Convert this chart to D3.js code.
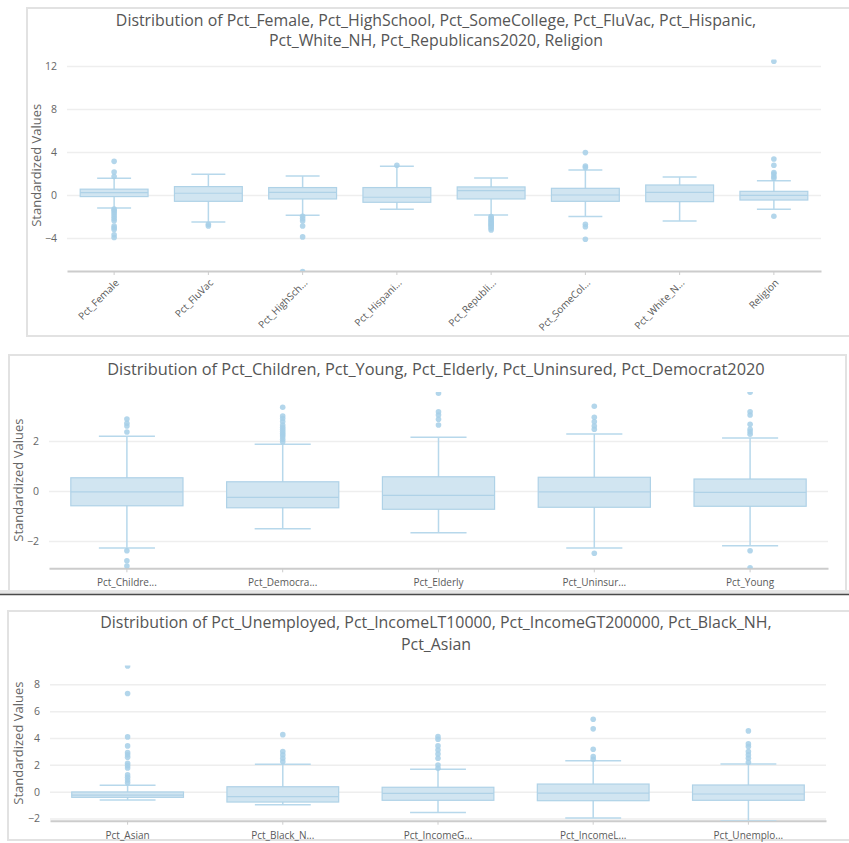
<!DOCTYPE html>
<html>
<head>
<meta charset="utf-8">
<script src="https://cdn.jsdelivr.net/npm/d3@7"></script>
<style>
  body { margin: 0; background: #fff; }
  svg { display: block; font-family: "Open Sans", "Noto Sans", sans-serif; }
</style>
</head>
<body>
<script>
// data ----------------------------------------------------------------
var p1Names = ['Pct_Female', 'Pct_FluVac', 'Pct_HighSchool', 'Pct_Hispanic',
  'Pct_Republicans2020', 'Pct_SomeCollege', 'Pct_White_NH', 'Religion'];
var p1Q1 = [-0.15, -0.59, -0.37, -0.68, -0.37, -0.59, -0.62, -0.47];
var p1Median = [0.22, 0.16, 0.25, -0.21, 0.41, 0.0, 0.25, -0.03];
var p1Q3 = [0.54, 0.78, 0.69, 0.69, 0.75, 0.62, 0.93, 0.34];
var p1Low = [-1.2, -2.51, -1.89, -1.33, -1.86, -2.0, -2.42, -1.33];
var p1High = [1.55, 1.93, 1.77, 2.67, 1.58, 2.33, 1.67, 1.33];
var p1Outliers = [
  [3.13, 2.14, 1.71, -1.32, -1.45, -1.6, -1.8, -2.0, -2.2, -2.4, -2.88, -3.05, -3.2, -3.7, -3.95],
  [-2.73, -2.88],
  [-1.98, -2.2, -2.42, -2.88, -3.9, -7.12],
  [2.76],
  [-2.0, -2.13, -2.26, -2.4, -2.5, -2.62, -2.73, -2.85, -2.95, -3.1, -3.26],
  [3.94, 2.7, 2.55, -2.73, -2.95, -4.12],
  [],
  [12.44, 3.35, 2.76, 2.08, 1.95, 1.71, 1.55, -1.98]
];
var p1Ticks = [-4, 0, 4, 8, 12];
var p1Title = ['Distribution of Pct_Female, Pct_HighSchool, Pct_SomeCollege, Pct_FluVac, Pct_Hispanic,',
  'Pct_White_NH, Pct_Republicans2020, Religion'];

var p2Names = ['Pct_Children', 'Pct_Democrat2020', 'Pct_Elderly', 'Pct_Uninsured', 'Pct_Young'];
var p2Q1 = [-0.59, -0.67, -0.73, -0.65, -0.61];
var p2Median = [-0.03, -0.25, -0.17, -0.03, -0.05];
var p2Q3 = [0.53, 0.37, 0.57, 0.55, 0.48];
var p2Low = [-2.28, -1.51, -1.67, -2.28, -2.19];
var p2High = [2.19, 1.87, 2.15, 2.28, 2.12];
var p2Outliers = [
  [2.88, 2.71, 2.6, 2.36, -2.39, -2.79, -3.0],
  [3.35, 3.0, 2.9, 2.78, 2.64, 2.55, 2.47, 2.39, 2.31, 2.24, 2.17, 2.07, 1.97],
  [3.91, 3.17, 3.04, 2.87, 2.64],
  [3.39, 2.95, 2.77, 2.6, 2.47, -2.49],
  [3.95, 3.17, 3.04, 2.67, 2.47, 2.37, 2.27, -2.39, -3.07]
];
var p2Ticks = [-2, 0, 2];
var p2Title = ['Distribution of Pct_Children, Pct_Young, Pct_Elderly, Pct_Uninsured, Pct_Democrat2020'];

var p3Names = ['Pct_Asian', 'Pct_Black_NH', 'Pct_IncomeGT200000', 'Pct_IncomeLT10000', 'Pct_Unemployed'];
var p3Q1 = [-0.42, -0.77, -0.64, -0.67, -0.64];
var p3Median = [-0.25, -0.37, -0.12, -0.1, -0.17];
var p3Q3 = [-0.02, 0.37, 0.33, 0.57, 0.5];
var p3Low = [-0.62, -0.97, -1.54, -1.96, -2.16];
var p3High = [0.48, 2.04, 1.67, 2.31, 2.07];
var p3Outliers = [
  [9.36, 7.31, 4.08, 3.41, 2.91, 2.74, 2.57, 2.12, 1.94, 1.77, 1.25, 1.07, 0.87, 0.67],
  [4.25, 2.99, 2.74, 2.49, 2.24],
  [4.1, 3.91, 3.41, 3.11, 2.81, 2.49, 1.99, 1.74],
  [5.4, 4.68, 3.16, 2.61, 2.42],
  [4.53, 3.56, 3.36, 2.99, 2.74, 2.49, 2.19]
];
var p3Ticks = [-2, 0, 2, 4, 6, 8];
var p3Title = ['Distribution of Pct_Unemployed, Pct_IncomeLT10000, Pct_IncomeGT200000, Pct_Black_NH,',
  'Pct_Asian'];

// layout ---------------------------------------------------------------
var panels = [
  { names: p1Names, q1: p1Q1, med: p1Median, q3: p1Q3, lo: p1Low, hi: p1High, out: p1Outliers,
    ticks: p1Ticks, title: p1Title,
    frame: [27, 8, 840, 328], x: [67, 821], y: [271, 59.5], domain: [-7.07, 12.6],
    titleY: [26, 46], titleW: 641, yTitleX: 36, rotate: true },
  { names: p2Names, q1: p2Q1, med: p2Median, q3: p2Q3, lo: p2Low, hi: p2High, out: p2Outliers,
    ticks: p2Ticks, title: p2Title,
    frame: [9, 355, 837, 236], x: [49, 828], y: [568.3, 392], domain: [-3.09, 3.96],
    titleY: [375], titleW: 658, yTitleX: 18, rotate: false },
  { names: p3Names, q1: p3Q1, med: p3Median, q3: p3Q3, lo: p3Low, hi: p3High, out: p3Outliers,
    ticks: p3Ticks, title: p3Title,
    frame: [8, 611, 850, 229], x: [50, 826], y: [820.7, 665.5], domain: [-2.16, 9.4],
    titleY: [628, 649.5], titleW: 672, yTitleX: 18, rotate: false }
];

var colors = {
  boxFill: '#d1e5f1',
  boxStroke: '#afd2e7',
  whisker: '#b7d8eb',
  dot: '#a6cfe7',
  grid: '#eeeeee',
  axis: '#cccccc',
  text: '#666666',
  title: '#555555'
};

var shorten = function(name) {
  return name.length > 11 ? name.slice(0, 11) + '...' : name;
};

var svg = d3.select('body').append('svg')
  .attr('width', 849)
  .attr('height', 843);

// panel frames
panels.forEach(function(p) {
  svg.append('rect')
    .attr('x', p.frame[0]).attr('y', p.frame[1])
    .attr('width', p.frame[2]).attr('height', p.frame[3])
    .attr('fill', '#fff')
    .attr('stroke', '#e2e2e2')
    .attr('stroke-width', 2);
});

// separator under the middle panel
svg.append('rect').attr('x', 0).attr('y', 590).attr('width', 849).attr('height', 4).attr('fill', '#e6e6e6');
svg.append('line').attr('x1', 0).attr('x2', 849).attr('y1', 594.5).attr('y2', 594.5)
  .attr('stroke', '#4a4a4a').attr('stroke-width', 1.5);

panels.forEach(function(p, pi) {
  var g = svg.append('g');

  var x = d3.scaleBand().domain(p.names).range(p.x).padding(0);
  var y = d3.scaleLinear().domain(p.domain).range(p.y);
  var bw = x.bandwidth() * 0.72;
  var cw = x.bandwidth() * 0.36;

  // title, fitted to the width it has in the picture
  var titleText = g.selectAll('text.title')
    .data(p.title)
    .enter()
    .append('text')
    .attr('class', 'title')
    .attr('x', 436)
    .attr('y', function(d, i) { return p.titleY[i]; })
    .attr('text-anchor', 'middle')
    .attr('fill', colors.title)
    .style('font-size', '16px')
    .text(function(d) { return d; });
  var len = titleText.node().getComputedTextLength();
  titleText.style('font-size', (16 * p.titleW / len) + 'px');

  // y grid + tick labels
  var yAxis = d3.axisLeft(y)
    .tickValues(p.ticks)
    .tickFormat(d3.format('d'))
    .tickSize(-(p.x[1] - p.x[0]))
    .tickPadding(10);
  var ya = g.append('g')
    .attr('transform', 'translate(' + p.x[0] + ',0)')
    .call(yAxis);
  ya.select('.domain').remove();
  ya.selectAll('line').attr('stroke', colors.grid).attr('stroke-width', 1.5);
  ya.selectAll('text').attr('fill', colors.text).style('font-size', '10.5px')
    .style('font-family', '"Open Sans", sans-serif');

  // y title
  g.append('text')
    .attr('transform', 'translate(' + p.yTitleX + ',' + ((p.y[0] + p.y[1]) / 2) + ') rotate(-90)')
    .attr('text-anchor', 'middle')
    .attr('dy', '0.35em')
    .attr('fill', colors.text)
    .style('font-size', '13px')
    .text('Standardized Values');

  // x axis
  var xAxis = d3.axisBottom(x).tickSize(4).tickSizeOuter(0).tickFormat(shorten);
  var xa = g.append('g')
    .attr('transform', 'translate(0,' + p.y[0] + ')')
    .call(xAxis);
  xa.select('.domain').attr('stroke', colors.axis).attr('stroke-width', 2);
  xa.selectAll('line').attr('stroke', colors.axis);
  xa.selectAll('text').attr('fill', '#5a5a5a')
    .style('font-family', '"Open Sans", sans-serif');
  if (p.rotate) {
    xa.selectAll('text')
      .style('font-size', '10px')
      .attr('text-anchor', 'end')
      .attr('dy', '0.35em')
      .attr('transform', 'translate(3,10) rotate(-45)')
      .attr('y', 0).attr('x', 0);
  } else {
    xa.selectAll('text').style('font-size', '10px').attr('y', 11);
  }

  // plot area clip
  var clipId = 'clip' + pi;
  g.append('clipPath').attr('id', clipId)
    .append('rect')
    .attr('x', p.x[0]).attr('y', p.y[1])
    .attr('width', p.x[1] - p.x[0]).attr('height', p.y[0] - p.y[1]);

  var plot = g.append('g').attr('clip-path', 'url(#' + clipId + ')');

  var boxes = plot.selectAll('g.box')
    .data(p.names)
    .enter()
    .append('g')
    .attr('class', 'box');

  var cx = function(d) { return x(d) + x.bandwidth() / 2; };

  // whisker stems
  boxes.append('line')
    .attr('x1', cx).attr('x2', cx)
    .attr('y1', function(d, i) { return y(p.lo[i]); })
    .attr('y2', function(d, i) { return y(p.hi[i]); })
    .attr('stroke', colors.whisker).attr('stroke-width', 1.5);

  // caps
  ['lo', 'hi'].forEach(function(key) {
    boxes.append('line')
      .attr('x1', function(d) { return cx(d) - cw / 2; })
      .attr('x2', function(d) { return cx(d) + cw / 2; })
      .attr('y1', function(d, i) { return y(p[key][i]); })
      .attr('y2', function(d, i) { return y(p[key][i]); })
      .attr('stroke', colors.whisker).attr('stroke-width', 1.5);
  });

  // box
  boxes.append('rect')
    .attr('x', function(d) { return cx(d) - bw / 2; })
    .attr('width', bw)
    .attr('y', function(d, i) { return y(p.q3[i]); })
    .attr('height', function(d, i) { return y(p.q1[i]) - y(p.q3[i]); })
    .attr('fill', colors.boxFill)
    .attr('stroke', colors.boxStroke)
    .attr('stroke-width', 1.2);

  // median
  boxes.append('line')
    .attr('x1', function(d) { return cx(d) - bw / 2; })
    .attr('x2', function(d) { return cx(d) + bw / 2; })
    .attr('y1', function(d, i) { return y(p.med[i]); })
    .attr('y2', function(d, i) { return y(p.med[i]); })
    .attr('stroke', colors.boxStroke).attr('stroke-width', 1.2);

  // outliers
  boxes.selectAll('circle')
    .data(function(d, i) { return p.out[i].map(function(v) { return { name: d, v: v }; }); })
    .enter()
    .append('circle')
    .attr('cx', function(d) { return cx(d.name); })
    .attr('cy', function(d) { return y(d.v); })
    .attr('r', 2.8)
    .attr('fill', colors.dot)
    .attr('opacity', 0.85);
});
</script>
</body>
</html>
